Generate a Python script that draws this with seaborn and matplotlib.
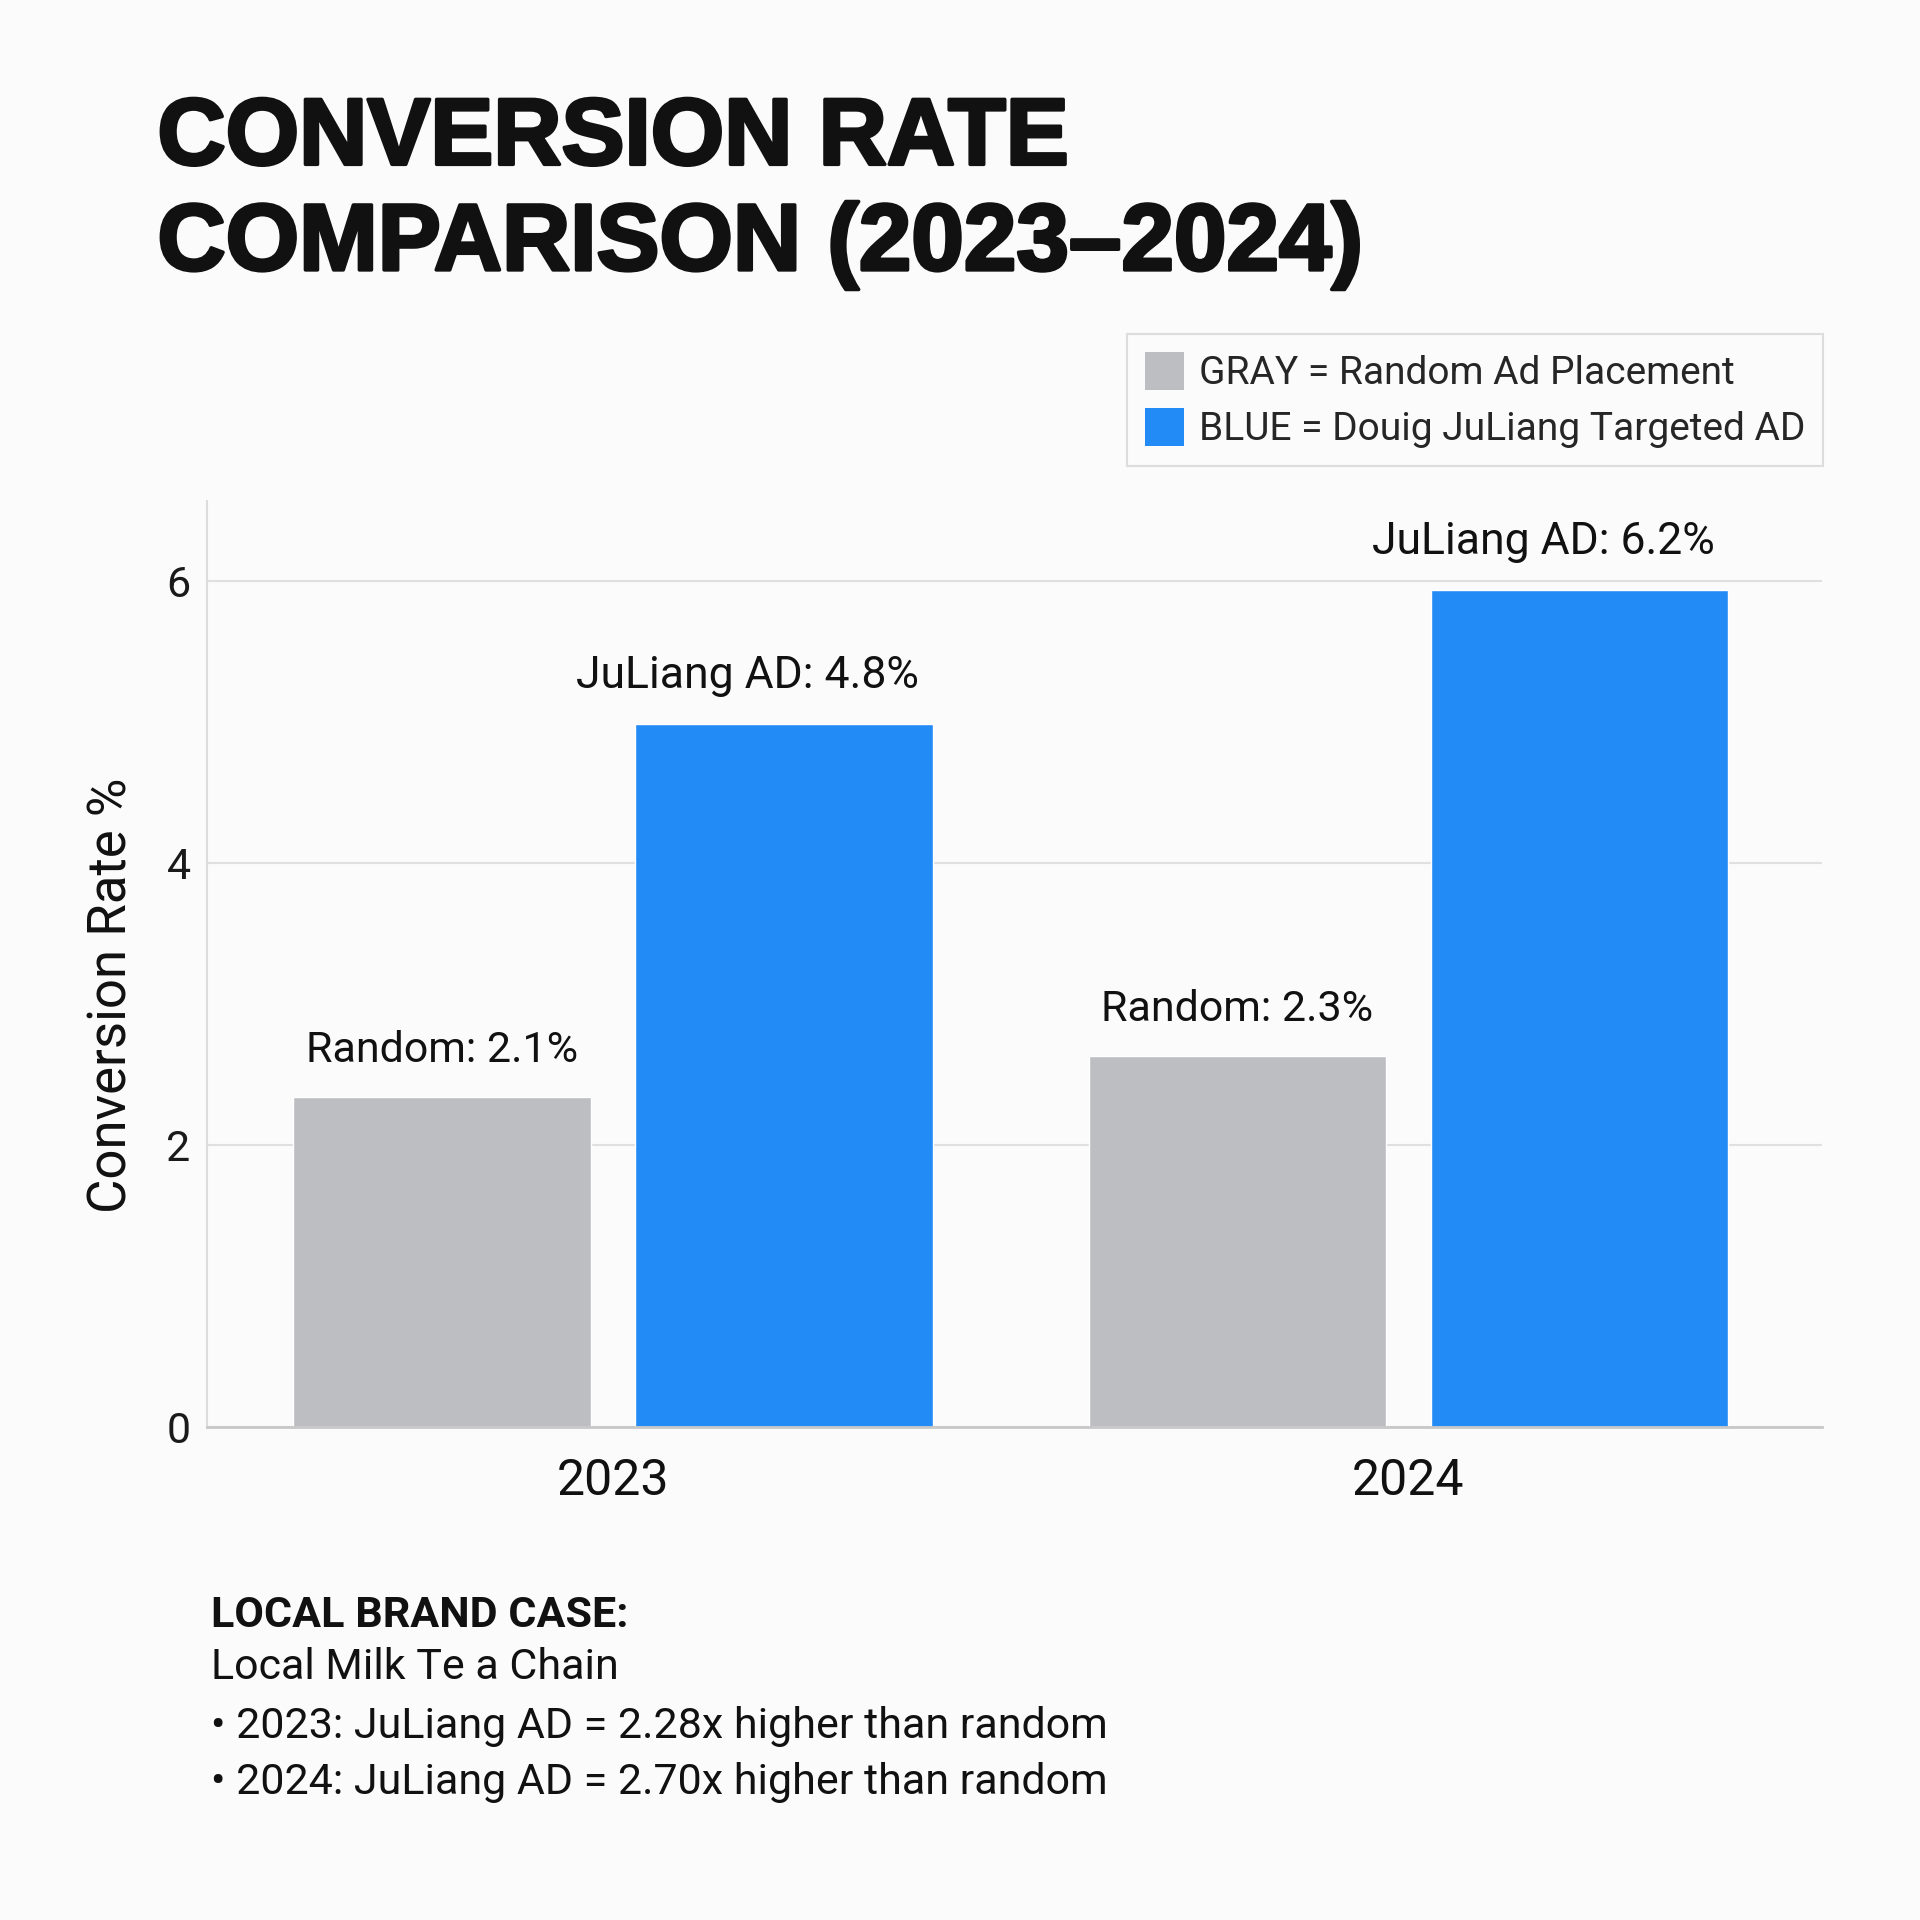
import matplotlib
matplotlib.use("Agg")
import matplotlib.pyplot as plt
import matplotlib.patheffects as pe
from matplotlib.patches import Patch
import seaborn as sns
import pandas as pd

# ---- data ----
years = ["2023", "2024"]
series = ["Random", "JuLiang"]
random_values = [2.34, 2.63]
juliang_values = [4.99, 5.94]
random_labels = ["Random: 2.1%", "Random: 2.3%"]
juliang_labels = ["JuLiang AD: 4.8%", "JuLiang AD: 6.2%"]
y_ticks = [0, 2, 4, 6]
legend_labels = ["GRAY = Random Ad Placement", "BLUE = Douig JuLiang Targeted AD"]
title_text = "CONVERSION RATE\nCOMPARISON (2023\u20132024)"
ylabel_text = "Conversion Rate %"
case_title = "LOCAL BRAND CASE:"
case_lines = ["Local Milk Te a Chain",
              "\u2022 2023: JuLiang AD = 2.28x higher than random",
              "\u2022 2024: JuLiang AD = 2.70x higher than random"]

GRAY = "#bdbec2"
BLUE = "#238bf6"
BG = "#fbfbfb"

df = pd.DataFrame({
    "year": years * 2,
    "series": [series[0]] * 2 + [series[1]] * 2,
    "value": random_values + juliang_values,
})

sns.set_theme(style="white")
plt.rcParams["font.family"] = ["Roboto", "DejaVu Sans"]

fig = plt.figure(figsize=(19.2, 19.2), dpi=100, facecolor=BG)
ax = fig.add_axes([0.108, 0.257, 0.841, 0.482], facecolor=BG)

sns.barplot(data=df, x="year", y="value", hue="series", order=years,
            hue_order=series, palette=[GRAY, BLUE], gap=0.13, width=0.86,
            saturation=1, ax=ax, legend=False, errorbar=None)

ax.set_xlim(-0.51, 1.52)
ax.set_ylim(0, 6.57)
ax.set_yticks(y_ticks)
ax.yaxis.grid(True, color="#e0e0e0", linewidth=1.5)
ax.xaxis.grid(False)
ax.set_axisbelow(True)
for s in ["top", "right"]:
    ax.spines[s].set_visible(False)
ax.spines["left"].set_color("#dddddd")
ax.spines["left"].set_linewidth(1.5)
ax.spines["bottom"].set_color("#c8c8c8")
ax.spines["bottom"].set_linewidth(2)
ax.tick_params(axis="both", length=0)
ax.tick_params(axis="y", labelsize=31, pad=12, colors="#1a1a1a")
ax.tick_params(axis="x", labelsize=36, pad=22, colors="#111111")
ax.set_xlabel("")
ax.set_ylabel(ylabel_text, fontsize=38, color="#111111")
ax.yaxis.set_label_coords(-0.043, 0.466)

# value labels: random centred on bars, JuLiang shifted slightly left as in the reference
ax.bar_label(ax.containers[0], labels=random_labels, padding=19, fontsize=31,
             color="#111111")
for bar, lab in zip(ax.containers[1], juliang_labels):
    ax.annotate(lab, xy=(bar.get_x() + bar.get_width() / 2, bar.get_height()),
                xytext=(-26, 19), textcoords="offset points", ha="center",
                va="bottom", fontsize=32, color="#111111")

fig.text(0.082, 0.849, title_text, fontsize=68, fontweight="bold",
         family=["Liberation Sans", "DejaVu Sans"], color="#111111",
         va="bottom", ha="left", linespacing=1.24,
         path_effects=[pe.withStroke(linewidth=2.5, foreground="#111111")])

handles = [Patch(facecolor=GRAY, edgecolor="none"), Patch(facecolor=BLUE, edgecolor="none")]
leg = fig.legend(handles, legend_labels, loc="upper right",
                 bbox_to_anchor=(0.9496, 0.826), borderaxespad=0, fontsize=28,
                 frameon=True, fancybox=False, edgecolor="#d6d6d6", facecolor=BG,
                 handlelength=1.0, handleheight=1.15, handletextpad=0.4,
                 labelspacing=0.4, borderpad=0.45)
leg.get_frame().set_linewidth(1.5)

fig.text(0.110, 0.1588, case_title, fontsize=31, fontweight="bold",
         color="#111111", va="center", ha="left")
ys = [0.1314, 0.1008, 0.0714]
for y, t in zip(ys, case_lines):
    fig.text(0.110, y, t, fontsize=31, color="#111111", va="center", ha="left")

fig.savefig("out.png", dpi=100, facecolor=BG)
